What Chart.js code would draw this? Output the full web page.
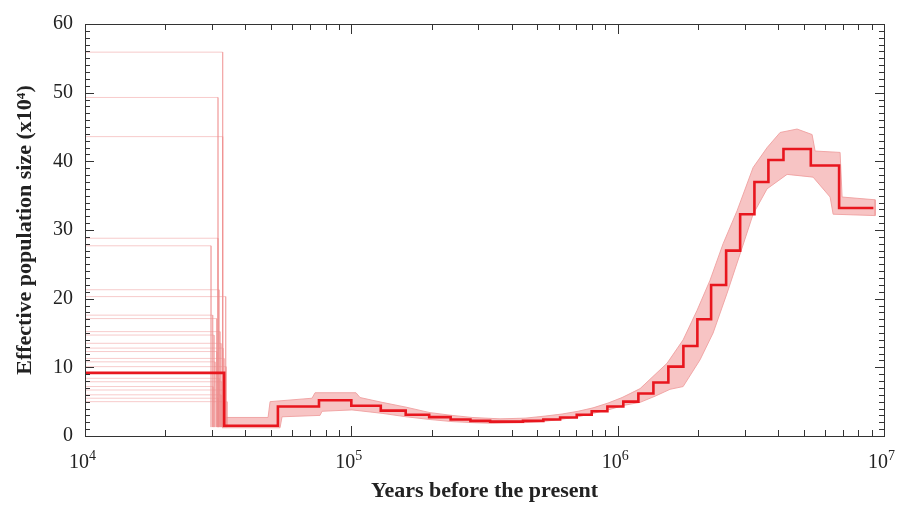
<!DOCTYPE html>
<html>
<head>
<meta charset="utf-8">
<script src="https://cdn.jsdelivr.net/npm/chart.js@4.4.1/dist/chart.umd.min.js"></script>
<style>
  html, body { margin: 0; padding: 0; background: #fff; }
  #wrap { width: 898px; height: 507px; }
</style>
</head>
<body>
<div id="wrap"><canvas id="psmc" width="898" height="507"></canvas></div>
<script>
// PSMC curve: each value holds from its breakpoint (years) until the next one
const mainYears = [1e4, 33300, 53000, 75600, 1e5, 129000, 160000, 196000, 236000, 280000,
  332000, 441000, 526000, 608000, 702000, 799000, 915000, 1050000, 1196000, 1362000,
  1550000, 1765000, 1992000, 2243000, 2554000, 2883000, 3262000, 3681000, 4193000,
  5311000, 6783000, 9125000];
const mainNe = [9.2, 1.5, 4.3, 5.2, 4.4, 3.7, 3.1, 2.75, 2.4, 2.2,
  2.1, 2.2, 2.4, 2.7, 3.1, 3.6, 4.3, 5.0, 6.2, 7.8,
  10.1, 13.1, 17.0, 22.0, 27.0, 32.3, 37.0, 40.2, 41.8,
  39.4, 33.2, 33.2];

// bootstrap spread (upper and lower edge of the pale band)
const bandUpperYears = [33270, 48680, 49530, 71190, 73070, 104100, 107800, 130440, 160500,
  197500, 238800, 283900, 361700, 449100, 533900, 618400, 710000, 808200, 920400,
  1038800, 1214000, 1533000, 1761000, 1987000, 2223000, 2488000, 2808000, 3225000,
  3640000, 4072000, 4717000, 5370000, 5512000, 6841000, 6961000, 9261000];
const bandUpperNe = [2.7, 2.7, 5.0, 5.5, 6.3, 6.3, 5.6, 4.9, 4.2,
  3.4, 3.0, 2.7, 2.5, 2.6, 2.9, 3.2, 3.6, 4.1, 4.8,
  5.6, 6.9, 10.6, 14.0, 18.3, 22.7, 28.0, 32.8, 39.1,
  42.0, 44.2, 44.7, 43.9, 41.5, 41.3, 34.8, 34.4];
const bandLowerYears = [32690, 53990, 54930, 76290, 77620, 100600, 130440, 160500, 197500,
  238800, 283900, 337600, 449100, 533900, 618400, 710000, 808200, 920400, 1066000,
  1214000, 1382000, 1573000, 1761000, 2039000, 2282000, 2575000, 2881000, 3225000,
  3640000, 4326000, 5417000, 6276000, 6441000, 9261000];
const bandLowerNe = [1.2, 1.2, 2.8, 3.0, 3.6, 3.8, 3.3, 2.8, 2.4,
  2.1, 1.95, 1.85, 1.95, 2.15, 2.45, 2.8, 3.3, 3.8, 4.5,
  4.9, 5.8, 6.8, 7.2, 11.1, 15.0, 20.8, 26.5, 32.3,
  36.0, 38.1, 37.7, 34.8, 32.3, 32.1];

// individual bootstrap runs that stand apart in the most recent interval
const bootNe = [55.9, 49.3, 43.6, 28.8, 27.7, 21.3, 20.3, 17.6, 17.1, 15.2, 14.7, 13.5,
  12.8, 12.3, 11.3, 10.8, 10.1, 8.4, 7.9, 7.2, 6.7, 6.0, 5.5, 5.0];
const bootDropYears = [32890, 31580, 32890, 31580, 29730, 31860, 33760, 30170, 31230, 32130,
  30510, 32410, 32980, 31310, 33270, 30770, 33850, 31860, 32690, 30250, 33560, 32410,
  31580, 34150];
const bootLowNe = 1.3;

const xTickExp = [4, 5, 6, 7];
const yMin = 0;
const yMax = 60;

const SERIF = "'Liberation Serif', 'Times New Roman', serif";

function toPoints(xs, ys) {
  return xs.map((x, i) => ({ x, y: ys[i] }));
}

const bandPoints = toPoints(bandUpperYears, bandUpperNe)
  .concat(toPoints(bandLowerYears, bandLowerNe).reverse());

const bootDatasets = bootNe.map((v, i) => ({
  data: [
    { x: 10 ** xTickExp[0], y: v },
    { x: bootDropYears[i], y: v },
    { x: bootDropYears[i], y: bootLowNe },
  ],
  borderColor: 'rgba(238, 140, 140, 0.45)',
  borderWidth: 1,
  pointRadius: 0,
  fill: false,
  order: 1,
}));

// frame, inward ticks on all four sides, and 10^n labels
const frameTicks = {
  id: 'frameTicks',
  afterDraw(chart) {
    const { ctx, chartArea: a, scales: { x, y } } = chart;
    ctx.save();
    ctx.strokeStyle = '#333';
    ctx.lineWidth = 1;
    ctx.strokeRect(Math.round(a.left) + 0.5, Math.round(a.top) + 0.5,
      Math.round(a.right - a.left), Math.round(a.bottom - a.top));

    ctx.beginPath();
    for (let p = xTickExp[0]; p < xTickExp[xTickExp.length - 1]; p++) {
      for (let m = 1; m <= 9; m++) {
        if (m === 1 && p === xTickExp[0]) continue;
        const px = Math.round(x.getPixelForValue(m * 10 ** p)) + 0.5;
        const len = m === 1 ? 10 : 6;
        ctx.moveTo(px, a.bottom);
        ctx.lineTo(px, a.bottom - len);
        ctx.moveTo(px, a.top);
        ctx.lineTo(px, a.top + len);
      }
    }
    for (let v = yMin + 1; v < yMax; v++) {
      const py = Math.round(y.getPixelForValue(v)) + 0.5;
      const len = v % 10 === 0 ? 9 : 5;
      ctx.moveTo(a.left, py);
      ctx.lineTo(a.left + len, py);
      ctx.moveTo(a.right, py);
      ctx.lineTo(a.right - len, py);
    }
    ctx.stroke();

    ctx.fillStyle = '#222';
    ctx.textBaseline = 'alphabetic';
    xTickExp.forEach((e) => {
      const px = x.getPixelForValue(10 ** e);
      ctx.font = `20px ${SERIF}`;
      ctx.textAlign = 'right';
      ctx.fillText('10', px + 4, a.bottom + 32);
      ctx.font = `14px ${SERIF}`;
      ctx.textAlign = 'left';
      ctx.fillText(String(e), px + 4, a.bottom + 24);
    });
    ctx.restore();
  },
};

new Chart(document.getElementById('psmc').getContext('2d'), {
  type: 'line',
  data: {
    datasets: [
      {
        label: 'PSMC',
        data: toPoints(mainYears, mainNe),
        stepped: 'before',
        borderColor: '#e8161e',
        borderWidth: 2.6,
        pointRadius: 0,
        fill: false,
        order: 0,
      },
      ...bootDatasets,
      {
        label: 'bootstrap band',
        data: bandPoints,
        borderColor: 'rgba(240, 160, 160, 0.9)',
        borderWidth: 1,
        backgroundColor: 'rgba(246, 186, 186, 0.85)',
        pointRadius: 0,
        fill: 'shape',
        order: 2,
      },
    ],
  },
  options: {
    responsive: false,
    animation: false,
    layout: { padding: { top: 22, right: 14, left: 0, bottom: 0 } },
    plugins: {
      legend: { display: false },
      tooltip: { enabled: false },
    },
    scales: {
      x: {
        type: 'logarithmic',
        min: 10 ** xTickExp[0],
        max: 10 ** xTickExp[xTickExp.length - 1],
        grid: { display: false, drawTicks: false },
        border: { display: false },
        ticks: { display: false },
        title: {
          display: true,
          text: 'Years before the present',
          color: '#222',
          font: { family: SERIF, size: 22, weight: 'bold' },
          padding: { top: 0, bottom: 2 },
        },
        afterFit(scale) { scale.height = 71; },
      },
      y: {
        min: yMin,
        max: yMax,
        grid: { display: false, drawTicks: false },
        border: { display: false },
        ticks: {
          stepSize: 10,
          padding: 12,
          color: '#222',
          font: { family: SERIF, size: 20 },
        },
        title: {
          display: true,
          text: 'Effective population size (x10⁴)',
          color: '#222',
          font: { family: SERIF, size: 22, weight: 'bold' },
          padding: { top: 12, bottom: 0 },
        },
        afterFit(scale) { scale.width = 85; },
      },
    },
  },
  plugins: [frameTicks],
});
</script>
</body>
</html>
